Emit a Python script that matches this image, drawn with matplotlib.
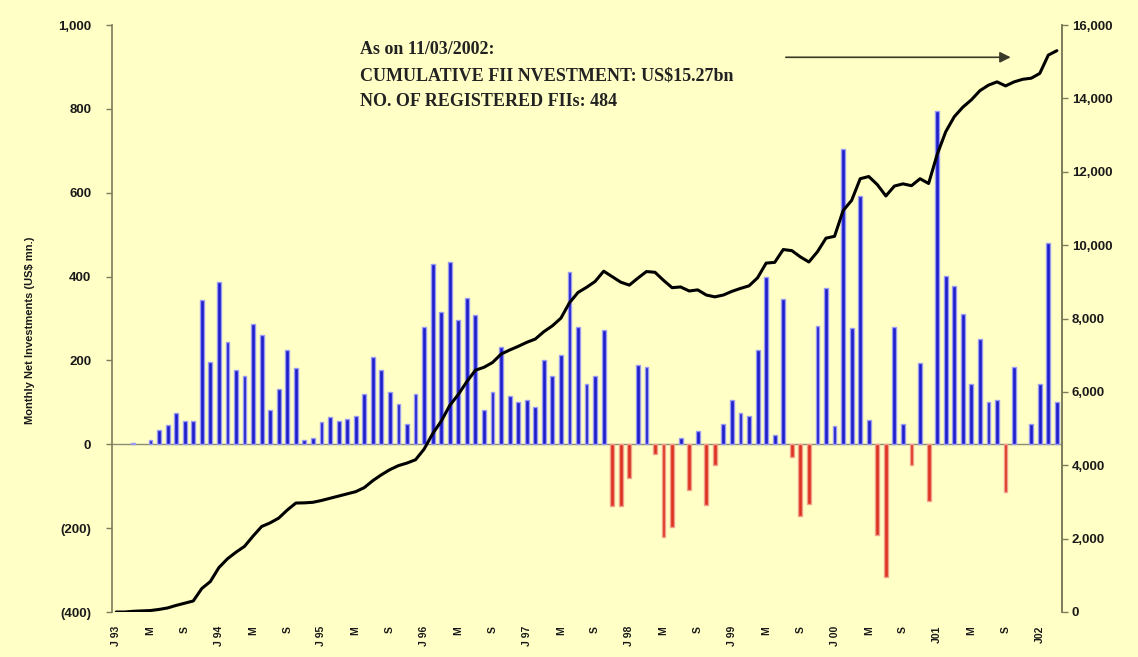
import matplotlib
matplotlib.use("Agg")
import matplotlib.pyplot as plt
import numpy as np

# ---------------- data ----------------
# Monthly net FII investment, US$ mn, Jan 1993 .. Mar 2002
net_flows = [0, 0, 2, 0, 11, 33, 45, 75, 55, 56,
             343, 196, 386, 245, 178, 164, 287, 260, 81, 133,
             226, 183, 10, 15, 52, 64, 56, 61, 67, 119,
             208, 178, 125, 95, 49, 121, 279, 429, 315, 434,
             297, 349, 309, 81, 125, 232, 114, 101, 106, 89,
             200, 164, 213, 410, 279, 143, 164, 272, -148, -148,
             -81, 190, 184, -24, -220, -197, 16, -108, 32, -144,
             -49, 48, 106, 75, 67, 224, 400, 22, 347, -30,
             -171, -143, 283, 373, 44, 705, 278, 593, 58, -216,
             -317, 280, 48, -49, 195, -135, 794, 401, 378, 310,
             144, 250, 102, 106, -114, 185, 0, 48, 144, 480,
             102]

# Cumulative FII investment, US$ mn (right axis)
cumulative = [0, 0, 20, 30, 40, 70, 110, 180, 240, 300,
              640, 830, 1210, 1450, 1630, 1790, 2070, 2330, 2430, 2560,
              2780, 2970, 2975, 2990, 3040, 3100, 3160, 3220, 3280, 3390,
              3580, 3740, 3880, 3990, 4060, 4150, 4440, 4860, 5200, 5630,
              5930, 6280, 6590, 6670, 6800, 7030, 7140, 7240, 7350, 7440,
              7640, 7800, 8010, 8430, 8710, 8850, 9010, 9290, 9140, 8990,
              8910, 9100, 9280, 9260, 9040, 8840, 8860, 8750, 8780, 8640,
              8590, 8640, 8740, 8820, 8890, 9110, 9510, 9530, 9880, 9850,
              9680, 9540, 9820, 10190, 10240, 10940, 11220, 11810, 11870, 11650,
              11340, 11610, 11670, 11620, 11810, 11680, 12470, 13090, 13500, 13760,
              13960, 14210, 14360, 14450, 14340, 14450, 14520, 14550, 14680, 15180,
              15300]

x_tick_labels = ["J 93", "M", "S", "J 94", "M", "S", "J 95", "M", "S",
                 "J 96", "M", "S", "J 97", "M", "S", "J 98", "M", "S",
                 "J 99", "M", "S", "J 00", "M", "S", "J01", "M", "S", "J02"]

left_ticks = [-400, -200, 0, 200, 400, 600, 800, 1000]
left_labels = ["(400)", "(200)", "0", "200", "400", "600", "800", "1,000"]
right_ticks = [0, 2000, 4000, 6000, 8000, 10000, 12000, 14000, 16000]
right_labels = ["0", "2,000", "4,000", "6,000", "8,000", "10,000",
                "12,000", "14,000", "16,000"]

note_lines = ["As on 11/03/2002:",
              "CUMULATIVE FII NVESTMENT: US\\$15.27bn",
              "NO. OF REGISTERED FIIs: 484"]

# ---------------- style ----------------
BG = "#ffffc6"
SPINE = "#7c7c5c"
TXT = "#1a1a1a"
W, H = 1138, 657

fig = plt.figure(figsize=(W / 100, H / 100), dpi=100, facecolor=BG)
ax = fig.add_axes([112 / W, 1 - 612 / H, (1062 - 112) / W, (612 - 25) / H])
ax.set_facecolor(BG)

x = np.arange(len(net_flows))
vals = np.array(net_flows)
nz = vals != 0
face = np.where(vals[nz] > 0, "#1c1cc8", "#dc3220")
edge = np.where(vals[nz] > 0, "#9a9af2", "#f2a08e")
ax.bar(x[nz], vals[nz], width=0.45, color=face, edgecolor=edge, linewidth=1.0, zorder=2)
ax.axhline(0, color="#8c8c74", linewidth=1.0, zorder=1)

ax.set_xlim(-0.5, 110.6)
ax.set_ylim(-400, 1000)
ax.set_yticks(left_ticks)
ax.set_yticklabels(left_labels)
ax.set_xticks(x[::4][:len(x_tick_labels)])
ax.set_xticklabels(x_tick_labels, rotation=90)
ax.tick_params(axis="x", length=0, pad=10, labelsize=7.5, labelcolor=TXT)
ax.tick_params(axis="y", length=4, color=SPINE, width=1, pad=11, labelsize=9.5, labelcolor=TXT)
for lab in ax.get_xticklabels() + ax.get_yticklabels():
    lab.set_fontweight("bold")
    lab.set_family("Liberation Sans")

for s in ["top", "bottom"]:
    ax.spines[s].set_visible(False)
for s in ["left", "right"]:
    ax.spines[s].set_color(SPINE)
    ax.spines[s].set_linewidth(1.2)

ax.set_ylabel("Monthly Net Investments (US\\$ mn.)", fontsize=8, fontweight="bold",
              family="Liberation Sans", color=TXT)
ax.yaxis.set_label_coords(-0.081, 0.48)

ax2 = ax.twinx()
ax2.plot(x, cumulative, color="black", linewidth=2.2, solid_joinstyle="round",
         solid_capstyle="round", zorder=3)
ax2.set_ylim(0, 16000)
ax2.set_yticks(right_ticks)
ax2.set_yticklabels(right_labels)
ax2.tick_params(axis="y", length=4, color=SPINE, width=1, pad=3, labelsize=9.5, labelcolor=TXT)
for lab in ax2.get_yticklabels():
    lab.set_fontweight("bold")
    lab.set_family("Liberation Sans")
for s in ["top", "bottom", "left"]:
    ax2.spines[s].set_visible(False)
ax2.spines["right"].set_color(SPINE)
ax2.spines["right"].set_linewidth(1.2)

# annotation
ys = [49, 76, 102]
for t, yy in zip(note_lines, ys):
    fig.text(360 / W, 1 - yy / H, t, family="Liberation Serif", fontweight="bold",
             fontsize=13, color="#222222", va="center", ha="left")
ax2.annotate("", xy=(104.6, 15120), xytext=(78.3, 15120),
             arrowprops=dict(arrowstyle="-|>", color="#3a3a2a", lw=1.2,
                             mutation_scale=16, shrinkA=0, shrinkB=0))

fig.savefig("out.png", dpi=100, facecolor=BG)
